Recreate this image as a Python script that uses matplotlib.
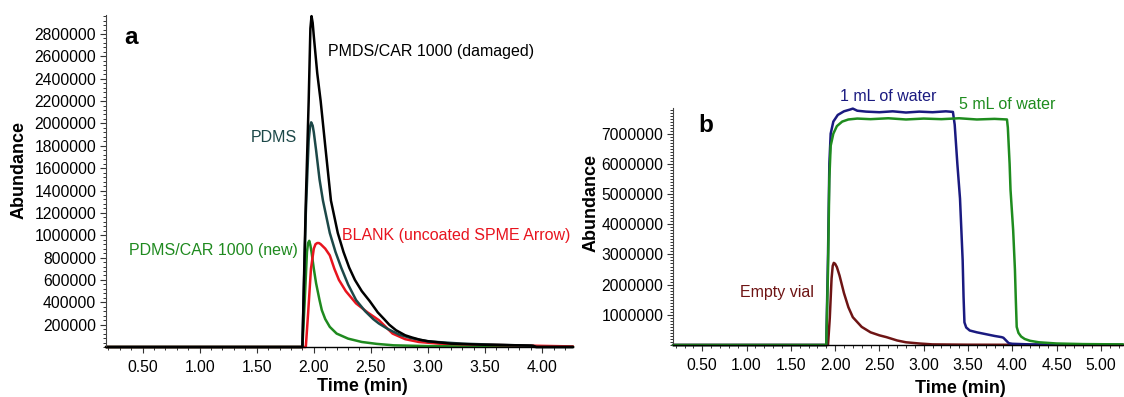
import numpy as np
import matplotlib
matplotlib.use("Agg")
import matplotlib.pyplot as plt
from matplotlib.ticker import MultipleLocator

plt.rcParams['font.family'] = ['Liberation Sans', 'DejaVu Sans']

# ---- panel a: chromatograms (time in min, abundance in millions) ----
t_damaged = [0.18, 1.90, 1.93, 1.955, 1.97, 1.98, 1.99, 2.00, 2.03, 2.06, 2.10, 2.15, 2.21, 2.26, 2.31,
             2.36, 2.42, 2.49, 2.56, 2.62, 2.66, 2.72, 2.80, 2.86, 2.93, 3.00, 3.20, 3.50, 3.80, 3.92, 3.95, 4.27]
a_damaged = [0, 0, 1.30, 2.20, 2.85, 2.96, 2.90, 2.78, 2.45, 2.20, 1.80, 1.31, 1.02, 0.85, 0.71,
             0.60, 0.50, 0.41, 0.31, 0.245, 0.20, 0.15, 0.105, 0.085, 0.065, 0.052, 0.03, 0.02, 0.015, 0.012, 0.0, 0]

t_pdms = [0.18, 1.90, 1.93, 1.955, 1.967, 1.977, 1.99, 2.00, 2.02, 2.05, 2.08, 2.14, 2.19, 2.24, 2.30, 2.37,
          2.45, 2.52, 2.57, 2.65, 2.75, 2.85, 3.00, 3.30, 3.60, 3.90, 3.94, 4.27]
a_pdms = [0, 0, 1.20, 1.85, 1.97, 2.01, 1.98, 1.92, 1.76, 1.50, 1.31, 1.02, 0.85, 0.71, 0.56, 0.42,
          0.32, 0.25, 0.21, 0.16, 0.11, 0.08, 0.05, 0.03, 0.02, 0.012, 0.0, 0]

t_blank = [0.18, 1.93, 1.95, 1.975, 2.00, 2.015, 2.03, 2.045, 2.06, 2.10, 2.14, 2.18, 2.22, 2.28, 2.37,
           2.47, 2.57, 2.63, 2.69, 2.80, 2.92, 3.10, 3.50, 3.90, 4.27]
a_blank = [0, 0, 0.30, 0.70, 0.88, 0.92, 0.93, 0.93, 0.92, 0.88, 0.82, 0.70, 0.60, 0.50, 0.39,
           0.31, 0.24, 0.18, 0.12, 0.07, 0.045, 0.03, 0.02, 0.012, 0.005]

t_new = [0.18, 1.90, 1.92, 1.94, 1.95, 1.96, 1.97, 1.98, 2.00, 2.02, 2.05, 2.07, 2.10, 2.14, 2.20,
         2.30, 2.42, 2.55, 2.70, 3.00, 3.50, 4.27]
a_new = [0, 0, 0.40, 0.85, 0.93, 0.95, 0.91, 0.85, 0.70, 0.57, 0.42, 0.33, 0.25, 0.18, 0.12,
         0.075, 0.045, 0.028, 0.015, 0.008, 0.004, 0.003]

yticks_a = [200000, 400000, 600000, 800000, 1000000, 1200000, 1400000,
            1600000, 1800000, 2000000, 2200000, 2400000, 2600000, 2800000]

# ---- panel b ----
t_1ml = [0.17, 1.90, 1.92, 1.935, 1.95, 1.98, 2.03, 2.10, 2.17, 2.20, 2.25, 2.35, 2.50,
         2.65, 2.80, 2.95, 3.10, 3.25, 3.33, 3.35, 3.38, 3.41, 3.44, 3.45, 3.46, 3.48,
         3.52, 3.60, 3.70, 3.80, 3.88, 3.90, 3.93, 3.96, 4.00, 4.20, 5.25]
a_1ml = [0, 0, 3.0, 6.0, 7.0, 7.40, 7.62, 7.74, 7.80, 7.83, 7.76, 7.73, 7.71,
         7.74, 7.70, 7.73, 7.71, 7.74, 7.72, 7.30, 6.00, 4.85, 2.80, 1.60, 0.75, 0.58,
         0.48, 0.42, 0.36, 0.30, 0.26, 0.24, 0.15, 0.06, 0.04, 0.02, 0.01]

t_5ml = [0.17, 1.90, 1.92, 1.935, 1.95, 1.98, 2.02, 2.08, 2.15, 2.25, 2.40, 2.60, 2.80,
         3.00, 3.20, 3.40, 3.60, 3.80, 3.94, 3.95, 3.97, 3.98, 4.01, 4.03, 4.04, 4.05,
         4.07, 4.10, 4.14, 4.20, 4.30, 4.50, 4.80, 5.25]
a_5ml = [0, 0, 2.5, 5.5, 6.6, 7.0, 7.25, 7.40, 7.47, 7.50, 7.48, 7.51, 7.47,
         7.50, 7.48, 7.51, 7.47, 7.49, 7.47, 7.20, 6.00, 5.15, 3.80, 2.50, 1.50, 0.60,
         0.40, 0.28, 0.20, 0.14, 0.09, 0.05, 0.03, 0.02]

t_empty = [0.17, 1.92, 1.94, 1.96, 1.973, 1.985, 2.00, 2.02, 2.05, 2.10, 2.15, 2.20, 2.30, 2.40, 2.50,
           2.58, 2.70, 2.80, 2.95, 3.10, 3.50, 5.25]
a_empty = [0, 0, 0.90, 2.20, 2.62, 2.72, 2.69, 2.58, 2.30, 1.72, 1.25, 0.92, 0.60, 0.42, 0.32,
           0.26, 0.15, 0.09, 0.05, 0.02, 0.01, 0]

yticks_b = [1000000, 2000000, 3000000, 4000000, 5000000, 6000000, 7000000]

M = 1e6
lw = 1.8

fig = plt.figure(figsize=(11.24, 3.97), dpi=100)
ax1 = fig.add_axes([106 / 1124, 50 / 397, 467 / 1124, 332 / 397])
ax2 = fig.add_axes([673 / 1124, 52 / 397, 450 / 1124, 237 / 397])


def style(ax, xlim, ylim, yticks, yminor):
    ax.set_xlim(*xlim)
    ax.set_ylim(*ylim)
    ax.spines['top'].set_visible(False)
    ax.spines['right'].set_visible(False)
    ax.spines['left'].set_color('#444444')
    ax.spines['left'].set_linewidth(0.8)
    ax.spines['bottom'].set_linewidth(1.0)
    ax.xaxis.set_major_locator(MultipleLocator(0.5))
    ax.xaxis.set_minor_locator(MultipleLocator(0.1))
    ax.xaxis.set_major_formatter(plt.FormatStrFormatter('%.2f'))
    ax.set_yticks(yticks)
    ax.set_yticklabels([str(v) for v in yticks])
    ax.yaxis.set_minor_locator(MultipleLocator(yminor))
    ax.tick_params(which='major', length=4, width=0.8, labelsize=11.3, pad=3, color='#333333')
    ax.tick_params(which='minor', length=2.5, width=0.7, color='#333333')
    ax.tick_params(axis='x', which='major', pad=5)


def trace(ax, t, a, color):
    ax.plot(np.array(t), np.array(a) * M, color=color, lw=lw, clip_on=False,
            solid_joinstyle='round', solid_capstyle='round')


# panel a
trace(ax1, t_new, a_new, '#1f8a1f')
trace(ax1, t_blank, a_blank, '#e8141e')
trace(ax1, t_pdms, a_pdms, '#1c4848')
trace(ax1, t_damaged, a_damaged, 'black')
style(ax1, (0.18, 4.27), (0, 2.97e6), yticks_a, 40000)

ax1.text(0.34, 2.71e6, 'a', fontsize=17.5, fontweight='bold', va='baseline')
ax1.text(2.12, 2.60e6, 'PMDS/CAR 1000 (damaged)', fontsize=11.5, color='black', va='baseline')
ax1.text(1.45, 1.83e6, 'PDMS', fontsize=11.5, color='#1c4848', va='baseline')
ax1.text(0.38, 0.82e6, 'PDMS/CAR 1000 (new)', fontsize=11.5, color='#1f8a1f', va='baseline')
ax1.text(2.25, 0.96e6, 'BLANK (uncoated SPME Arrow)', fontsize=11.5, color='#e8141e', va='baseline')
ax1.set_xlabel('Time (min)', fontsize=13, fontweight='bold')
ax1.set_ylabel('Abundance', fontsize=13, fontweight='bold')
ax1.xaxis.set_label_coords(0.548, -0.093)
ax1.yaxis.set_label_coords(-0.169, 0.533)

# panel b
trace(ax2, t_empty, a_empty, '#6e1414')
trace(ax2, t_1ml, a_1ml, '#1a1a80')
trace(ax2, t_5ml, a_5ml, '#1e8c1e')
style(ax2, (0.17, 5.25), (0, 7.85e6), yticks_b, 100000)

ax2.text(0.455, 7.05e6, 'b', fontsize=17.5, fontweight='bold', va='baseline')
ax2.text(2.05, 8.09e6, '1 mL of water', fontsize=11.5, color='#1a1a80', va='baseline')
ax2.text(3.40, 7.81e6, '5 mL of water', fontsize=11.5, color='#1e8c1e', va='baseline')
ax2.text(0.93, 1.58e6, 'Empty vial', fontsize=11.5, color='#6e1414', va='baseline')
ax2.set_xlabel('Time (min)', fontsize=13, fontweight='bold')
ax2.set_ylabel('Abundance', fontsize=13, fontweight='bold')
ax2.xaxis.set_label_coords(0.638, -0.148)
ax2.yaxis.set_label_coords(-0.164, 0.60)

fig.savefig('out.png', dpi=100)
